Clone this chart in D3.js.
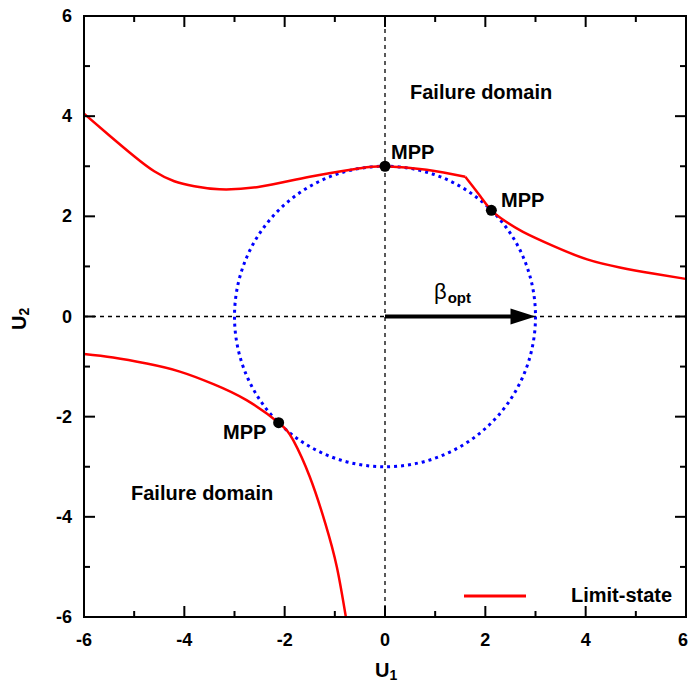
<!DOCTYPE html>
<html><head><meta charset="utf-8">
<script src="https://cdn.jsdelivr.net/npm/d3@7"></script>
<style>body{margin:0;background:#fff} svg{display:block} text{font-family:"Liberation Sans",Arial,sans-serif;font-weight:bold;fill:#000}</style>
</head><body><svg id="c" width="689" height="682"></svg>
<script>
// ---- data ----
const majorTicks = [-6, -4, -2, 0, 2, 4, 6];
const minorTicks = [-5, -3, -1, 1, 3, 5];
const tickLabels = ["-6", "-4", "-2", "0", "2", "4", "6"];
// upper limit-state branch (left of kink)
const upperAU = [-6, -5.5, -5.0, -4.6, -4.2, -3.8, -3.3, -2.5, -1.5, -0.5, 0, 0.83, 1.6];
const upperAV = [4.05, 3.62, 3.2, 2.9, 2.7, 2.6, 2.54, 2.59, 2.79, 2.96, 3.0, 2.93, 2.79];
// upper limit-state branch (right of kink)
const upperBU = [1.6, 1.9, 2.12, 2.4, 2.75, 3.35, 4.03, 4.68, 5.34, 6];
const upperBV = [2.79, 2.4, 2.12, 1.9, 1.69, 1.41, 1.14, 0.98, 0.86, 0.75];
// lower limit-state branch
const lowerU = [-6, -5.42, -4.75, -4.09, -3.42, -2.76, -2.12, -1.83, -1.5, -1.19, -0.96, -0.78];
const lowerV = [-0.75, -0.82, -0.94, -1.10, -1.35, -1.67, -2.12, -2.47, -3.2, -4.13, -5.0, -6.0];
// most probable points
const mppU = [0, 2.12, -2.12];
const mppV = [3.0, 2.12, -2.12];
const betaOpt = 3;

// ---- layout ----
const L = 84, R = 686, T = 16, B = 617;
const x = d3.scaleLinear().domain([-6, 6]).range([L, R]);
const y = d3.scaleLinear().domain([-6, 6]).range([B, T]);
const svg = d3.select("#c");

// dashed zero lines
svg.append("line").attr("x1", x(-6)).attr("x2", x(6)).attr("y1", y(0)).attr("y2", y(0))
  .attr("stroke", "#000").attr("stroke-width", 1.3).attr("stroke-dasharray", "4,4");
svg.append("line").attr("x1", x(0)).attr("x2", x(0)).attr("y1", y(-6)).attr("y2", y(6))
  .attr("stroke", "#000").attr("stroke-width", 1.3).attr("stroke-dasharray", "4,4");

// circle of radius beta
svg.append("ellipse").attr("cx", x(0)).attr("cy", y(0))
  .attr("rx", x(betaOpt) - x(0)).attr("ry", y(0) - y(betaOpt))
  .attr("fill", "none").attr("stroke", "#0000ff").attr("stroke-width", 3)
  .attr("stroke-dasharray", "3,4");

// limit-state curves
const line = d3.line().x(d => x(d[0])).y(d => y(d[1])).curve(d3.curveNatural);
const curves = [
  d3.zip(upperAU, upperAV),
  d3.zip(upperBU, upperBV),
  d3.zip(lowerU, lowerV)
];
svg.append("g").selectAll("path").data(curves).join("path")
  .attr("d", line).attr("fill", "none").attr("stroke", "#ff0000").attr("stroke-width", 2.5)
  .attr("stroke-linejoin", "round");

// arrow (beta_opt)
svg.append("line").attr("x1", x(0)).attr("y1", y(0)).attr("x2", x(betaOpt) - 20).attr("y2", y(0))
  .attr("stroke", "#000").attr("stroke-width", 4);
const tipX = x(betaOpt), tipY = y(0);
svg.append("polygon").attr("points", `${tipX},${tipY} ${tipX - 25},${tipY - 8} ${tipX - 25},${tipY + 8}`)
  .attr("fill", "#000");

// MPP points
svg.append("g").selectAll("circle").data(d3.zip(mppU, mppV)).join("circle")
  .attr("cx", d => x(d[0])).attr("cy", d => y(d[1])).attr("r", 5.5).attr("fill", "#000");

// frame
svg.append("rect").attr("x", L).attr("y", T).attr("width", R - L).attr("height", B - T)
  .attr("fill", "none").attr("stroke", "#000").attr("stroke-width", 2);

// ticks (inward, mirrored)
const tg = svg.append("g").attr("stroke", "#000").attr("stroke-width", 2);
function ticks(vals, len) {
  vals.forEach(v => {
    tg.append("line").attr("x1", x(v)).attr("x2", x(v)).attr("y1", B).attr("y2", B - len);
    tg.append("line").attr("x1", x(v)).attr("x2", x(v)).attr("y1", T).attr("y2", T + len);
    tg.append("line").attr("y1", y(v)).attr("y2", y(v)).attr("x1", L).attr("x2", L + len);
    tg.append("line").attr("y1", y(v)).attr("y2", y(v)).attr("x1", R).attr("x2", R - len);
  });
}
ticks(majorTicks.slice(1, -1), 11);
ticks(minorTicks, 6);

// tick labels
svg.append("g").selectAll("text").data(majorTicks).join("text")
  .attr("x", (d, i) => i === majorTicks.length - 1 ? 688 : x(d)).attr("y", B + 29)
  .attr("text-anchor", (d, i) => i === majorTicks.length - 1 ? "end" : "middle")
  .attr("font-size", 18).text((d, i) => tickLabels[i]);
svg.append("g").selectAll("text").data(majorTicks).join("text")
  .attr("x", L - 12).attr("y", d => y(d) + 6).attr("text-anchor", "end")
  .attr("font-size", 18).text((d, i) => tickLabels[i]);

// axis titles
const xt = svg.append("text").attr("x", 375).attr("y", 677).attr("font-size", 20);
xt.append("tspan").text("U");
xt.append("tspan").attr("font-size", 14).attr("dy", 3).text("1");
const yt = svg.append("text").attr("transform", "translate(26,330) rotate(-90)").attr("font-size", 20);
yt.append("tspan").text("U");
yt.append("tspan").attr("font-size", 14).attr("dy", 3).text("2");

// annotations
svg.append("text").attr("x", 410).attr("y", 99).attr("font-size", 20).text("Failure domain");
svg.append("text").attr("x", 131).attr("y", 500).attr("font-size", 20).text("Failure domain");
svg.append("text").attr("x", 391).attr("y", 159).attr("font-size", 20).text("MPP");
svg.append("text").attr("x", 501).attr("y", 207).attr("font-size", 20).text("MPP");
svg.append("text").attr("x", 223).attr("y", 439).attr("font-size", 20).text("MPP");
const bt = svg.append("text").attr("x", 434).attr("y", 299);
bt.append("tspan").attr("font-size", 22).attr("font-weight", "normal").text("β");
bt.append("tspan").attr("font-size", 15).attr("dy", 4).attr("dx", 1).text("opt");

// legend
svg.append("line").attr("x1", 464).attr("x2", 526).attr("y1", 596).attr("y2", 596)
  .attr("stroke", "#ff0000").attr("stroke-width", 3);
svg.append("text").attr("x", 571).attr("y", 602).attr("font-size", 20).text("Limit-state");
</script>
</body></html>
